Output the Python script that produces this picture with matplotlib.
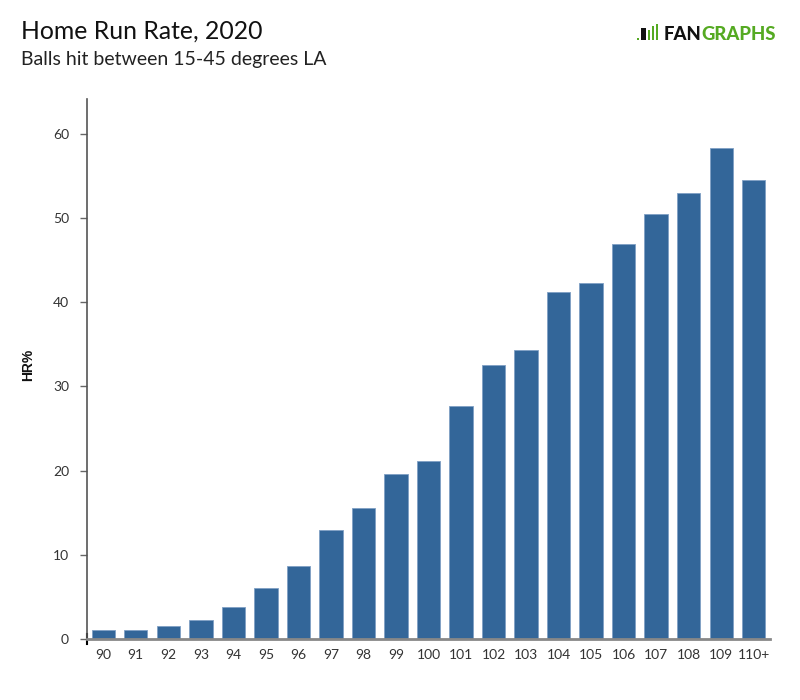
import matplotlib
matplotlib.use("Agg")
import matplotlib.pyplot as plt
from matplotlib.patches import Rectangle
from matplotlib.lines import Line2D

plt.rcParams['font.family'] = ['Lato', 'DejaVu Sans']

categories = ['90', '91', '92', '93', '94', '95', '96', '97', '98', '99', '100',
              '101', '102', '103', '104', '105', '106', '107', '108', '109', '110+']
hr_pct = [1.1, 1.1, 1.6, 2.3, 3.8, 6.0, 8.7, 12.9, 15.6, 19.6, 21.1,
          27.6, 32.5, 34.3, 41.2, 42.2, 46.9, 50.4, 52.9, 58.3, 54.5]
yticks = [0, 10, 20, 30, 40, 50, 60]

W, H = 800, 700
fig = plt.figure(figsize=(8, 7), dpi=100)
ax = fig.add_axes([87/W, 1 - 639/H, 683/W, 540/H])

x = list(range(len(categories)))
ax.bar(x, hr_pct, width=0.72, color='#336699', edgecolor='#7f9fc4', linewidth=0.6)
ax.set_xlim(-0.5, len(categories) - 0.5)
ax.set_ylim(0, 64.1)
ax.set_xticks(x)
ax.set_xticklabels(categories)
ax.set_yticks(yticks)
ax.tick_params(axis='x', length=0, pad=7, labelsize=10, colors='#333333')
ax.tick_params(axis='y', length=5, width=1, color='#666666', pad=8, labelsize=10, labelcolor='#333333')
for s in ['top', 'right']:
    ax.spines[s].set_visible(False)
ax.spines['left'].set_color('#555555')
ax.spines['left'].set_linewidth(1.2)
ax.spines['bottom'].set_color('#888888')
ax.spines['bottom'].set_linewidth(2)

fig.text(28/W, 1 - 365/H, 'HR%', fontsize=10, fontweight='bold', color='#111111',
         rotation=90, ha='center', va='center', family=['Liberation Sans', 'DejaVu Sans'])

# small black mark at origin
ax.add_line(Line2D([-0.5, -0.5], [-0.6, 0.6], color='black', lw=1.5,
                   transform=ax.transData, clip_on=False))

fig.text(21/W, 1 - 39/H, 'Home Run Rate, 2020', fontsize=17.8, color='#111111',
         ha='left', va='baseline')
fig.text(21/W, 1 - 65/H, 'Balls hit between 15-45 degrees LA', fontsize=14,
         color='#222222', ha='left', va='baseline')

# logo
green = '#55aa22'
fan = fig.text(664/W, 1 - 40/H, 'FAN', fontsize=13.3, fontweight='black', color='#111111',
               ha='left', va='baseline')
fig.canvas.draw()
bb = fan.get_window_extent(renderer=fig.canvas.get_renderer())
fig.text(bb.x1/W, 1 - 40/H, 'GRAPHS', fontsize=13.3, fontweight='black', color=green,
         ha='left', va='baseline')
for (lx, ly, w, h, c) in [(637, 38, 2, 2, green), (641, 28, 5, 12, '#111111'),
                          (648, 30, 2, 10, green), (652, 26, 2, 14, green), (656, 24, 2, 16, green)]:
    fig.add_artist(Rectangle((lx/W, 1 - (ly + h)/H), w/W, h/H,
                             transform=fig.transFigure, color=c, lw=0))

fig.savefig('out.png', dpi=100)
